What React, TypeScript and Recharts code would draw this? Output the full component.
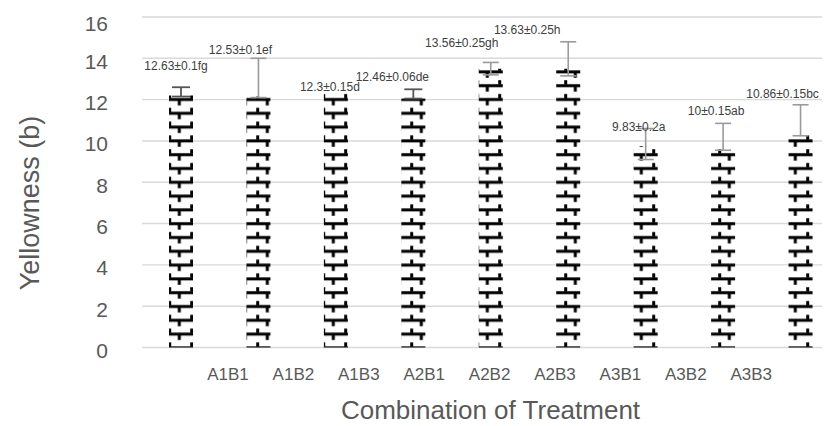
import React from "react";
import {
  BarChart,
  Bar,
  XAxis,
  YAxis,
  CartesianGrid,
  ErrorBar,
  LabelList,
  Label,
} from "recharts";

const treatments = ["A1B1", "A1B2", "A1B3", "A2B1", "A2B2", "A2B3", "A3B1", "A3B2", "A3B3"];
const yellowness = [12.2, 12.15, 12.3, 12.05, 13.5, 13.5, 9.75, 9.6, 10.3];
const meanLabels = [
  "12.63±0.1fg",
  "12.53±0.1ef",
  "12.3±0.15d",
  "12.46±0.06de",
  "13.56±0.25gh",
  "13.63±0.25h",
  "9.83±0.2a",
  "10±0.15ab",
  "10.86±0.15bc",
];
// [down, up] error lengths
const darkErr = [[0.05, 0.4], null, null, [0, 0.45], null, null, null, null, null];
const lightErr = [null, [0.05, 1.85], null, null, [0.3, 0.3], [0.35, 1.3], [0.65, 0.85], [0.05, 1.25], [0.05, 1.45]];
const yTicks = [0, 2, 4, 6, 8, 10, 12, 14, 16];

// label nudges (px) relative to the top of each error bar
const labelDx = [-5, -18, -6, -21, -29, -41, -7, -7, -18];
const labelDy = [-21, -8, -6, -12, -19, -12, -2, -12, -11];

const rows = treatments.map((t, i) => ({
  name: t,
  value: yellowness[i],
  label: meanLabels[i],
  dark: darkErr[i],
  light: lightErr[i],
}));

const MeanLabel = (p: any) => {
  const i = p.index;
  const up = (darkErr[i] || lightErr[i] || [0, 0])[1];
  const pxPerUnit = p.height / yellowness[i];
  const cx = p.x + p.width / 2 + labelDx[i];
  const cy = p.y - up * pxPerUnit + labelDy[i];
  return (
    <text x={cx} y={cy} textAnchor="middle" dominantBaseline="central" fontSize={12} fill="#404040">
      {p.value}
    </text>
  );
};

const YTitle = (p: any) => {
  const vb = p.viewBox;
  const x = vb.x + 22;
  const y = vb.y + 186;
  return (
    <text x={x} y={y} transform={`rotate(-90 ${x} ${y})`} textAnchor="middle" dominantBaseline="central" fontSize={27} fill="#595959">
      Yellowness (b)
    </text>
  );
};

const XTitle = (p: any) => {
  const vb = p.viewBox;
  return (
    <text x={vb.x + vb.width / 2} y={vb.y + 71} textAnchor="middle" fontSize={26} fill="#595959">
      Combination of Treatment
    </text>
  );
};

export default function App() {
  return (
    <div style={{ fontFamily: "'Liberation Sans', Arial, sans-serif", width: 822, height: 418 }}>
      <BarChart width={822} height={418} data={rows} margin={{ top: 9, right: -9, bottom: 0, left: 0 }}>
        <defs>
          <pattern id="brick" patternUnits="userSpaceOnUse" width={22} height={13.8} x={6.2} y={2}>
            <rect x={0} y={0} width={22} height={13.8} fill="#fff" />
            <rect x={0} y={5.2} width={22} height={3} fill="#000" />
            <rect x={0} y={1.2} width={3} height={4.4} fill="#000" />
            <rect x={9.6} y={7.8} width={3} height={4.8} fill="#000" />
          </pattern>
        </defs>
        <CartesianGrid vertical={false} stroke="#d9d9d9" strokeWidth={1.4} />
        <XAxis dataKey="name" hide height={0} />
        <XAxis
          xAxisId="lab"
          dataKey="name"
          padding={{ left: 53.3, right: 55.1 }}
          axisLine={false}
          tickLine={false}
          tickSize={0}
          tickMargin={20}
          height={78.5}
          interval={0}
          tick={{ fontSize: 17, fill: "#595959" }}
        >
          <Label content={XTitle} />
        </XAxis>
        <YAxis
          domain={[0, 16]}
          ticks={yTicks}
          width={134}
          axisLine={false}
          tickLine={false}
          tickSize={0}
          tickMargin={34}
          tick={{ fontSize: 21, fill: "#595959", dy: 3 }}
        >
          <Label content={YTitle} />
        </YAxis>
        <Bar dataKey="value" fill="url(#brick)" barSize={24} isAnimationActive={false}>
          <ErrorBar dataKey="light" width={8} stroke="#9a9a9a" strokeWidth={1.6} direction="y" />
          <ErrorBar dataKey="dark" width={9} stroke="#555" strokeWidth={1.8} direction="y" />
          <LabelList dataKey="label" content={MeanLabel} />
        </Bar>
      </BarChart>
    </div>
  );
}
